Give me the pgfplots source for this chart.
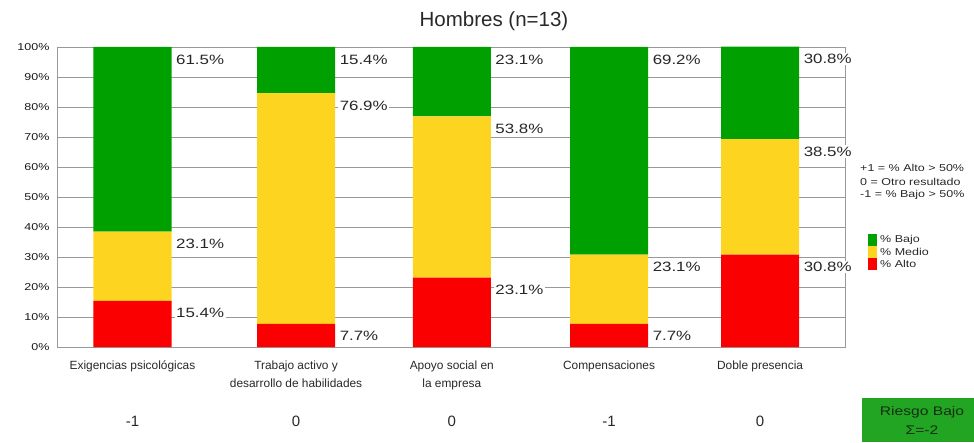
\documentclass[border=0pt]{standalone}
\usepackage{pgfplots}
\pgfplotsset{compat=1.18}
\usepackage{fontspec}
\setmainfont{Liberation Sans}
\newfontfamily\wide[FakeStretch=1.25]{Liberation Sans}
\definecolor{bajo}{RGB}{0,160,0}
\definecolor{medio}{RGB}{253,212,32}
\definecolor{alto}{RGB}{250,0,0}
\definecolor{boxgreen}{RGB}{34,165,34}
\definecolor{boxtxt}{RGB}{20,45,20}
\definecolor{txt}{RGB}{40,40,40}

\begin{document}
\begin{tikzpicture}
\path[use as bounding box] (-57pt,-95pt) rectangle (917pt,347pt);
\begin{axis}[
  at={(0,0)}, anchor=south west,
  scale only axis, width=788pt, height=300pt,
  ybar stacked, bar width=0.496,
  xmin=-0.48, xmax=4.53, ymin=0, ymax=100,
  xtick={0,1.04,2.03,3.03,3.99},
  xticklabels={Exigencias psicológicas,
    {Trabajo activo y\\desarrollo de habilidades},
    {Apoyo social en\\la empresa},
    Compensaciones, Doble presencia},
  ytick={0,10,...,100},
  yticklabel={\pgfmathprintnumber{\tick}\%},
  /pgf/number format/assume math mode=true,
  ymajorgrids,
  major grid style={draw=black!40, line width=0.9pt},
  extra y ticks={50,70}, extra y tick labels={},
  extra y tick style={grid style={draw=black!65, line width=1pt}},
  major tick length=0,
  axis line style={draw=black!40, line width=0.9pt},
  tick label style={font=\wide\fontsize{10}{12}\selectfont, text=black!90},
  xticklabel style={align=center, yshift=-10pt, font=\fontsize{11.9}{18}\selectfont, text=txt},
  yticklabel style={xshift=-4pt},
  clip=false,
]
% % Alto
\addplot[fill=alto, draw=none] coordinates
  {(0,15.4) (1.04,7.7) (2.03,23.1) (3.03,7.7) (3.99,30.8)};
% % Medio
\addplot[fill=medio, draw=none] coordinates
  {(0,23.1) (1.04,76.9) (2.03,53.8) (3.03,23.1) (3.99,38.5)};
% % Bajo
\addplot[fill=bajo, draw=none] coordinates
  {(0,61.5) (1.04,15.4) (2.03,23.1) (3.03,69.2) (3.99,30.8)};

% share labels, set beside the top of each segment
\foreach \x/\a/\m/\b in {0/15.4/23.1/61.5, 1.04/7.7/76.9/15.4, 2.03/23.1/53.8/23.1,
                         3.03/7.7/23.1/69.2, 3.99/30.8/38.5/30.8}{
  \pgfmathsetmacro\ya{\a}
  \pgfmathsetmacro\ym{\a+\m}
  \pgfmathsetmacro\yb{\a+\m+\b}
  \foreach \yy/\v in {\ya/\a, \ym/\m, \yb/\b}{
    \edef\tmp{\noexpand\node[anchor=north west, xshift=42pt, yshift=-6pt,
      font=\noexpand\wide\noexpand\fontsize{13.5}{15}\noexpand\selectfont,
      fill=white, inner sep=1.5pt, text=txt]
      at (axis cs:\x,\yy) {\v\noexpand\%};}\tmp
  }
}

% score row under each dimension
\foreach \x/\s in {0/-1,1.04/0,2.03/0,3.03/-1,3.99/0}{
  \edef\tmp{\noexpand\node[font=\noexpand\fontsize{15}{17}\noexpand\selectfont, text=txt]
    at (axis cs:\x,-24.8) {\s};}\tmp
}
\end{axis}

% title
\node[font=\fontsize{20.5}{24}\selectfont, text=txt] at (437pt,326pt) {Hombres (n=13)};

% scoring key
\begin{scope}[font=\wide\fontsize{10}{12}\selectfont, text=txt]
\node[anchor=west, inner sep=0] at (803pt,179pt) {+1 = \% Alto > 50\%};
\node[anchor=west, inner sep=0] at (803pt,165.5pt) {0 = Otro resultado};
\node[anchor=west, inner sep=0] at (803pt,152pt) {-1 = \% Bajo > 50\%};
\fill[bajo]  (811pt,113pt) rectangle (820pt,101pt);
\fill[medio] (811pt,101pt) rectangle (820pt,89pt);
\fill[alto]  (811pt,89pt)  rectangle (820pt,77pt);
\node[anchor=west, inner sep=0] at (823pt,107pt) {\% Bajo};
\node[anchor=west, inner sep=0] at (823pt,95pt) {\% Medio};
\node[anchor=west, inner sep=0] at (823pt,83pt) {\% Alto};
\end{scope}

% overall result
\fill[boxgreen] (805pt,-51pt) rectangle (917pt,-95pt);
\node[font=\wide\fontsize{12.5}{14}\selectfont, text=boxtxt] at (865pt,-65pt) {Riesgo Bajo};
\node[font=\wide\fontsize{12.5}{14}\selectfont, text=boxtxt] at (865pt,-83pt) {Σ=-2};
\end{tikzpicture}
\end{document}
